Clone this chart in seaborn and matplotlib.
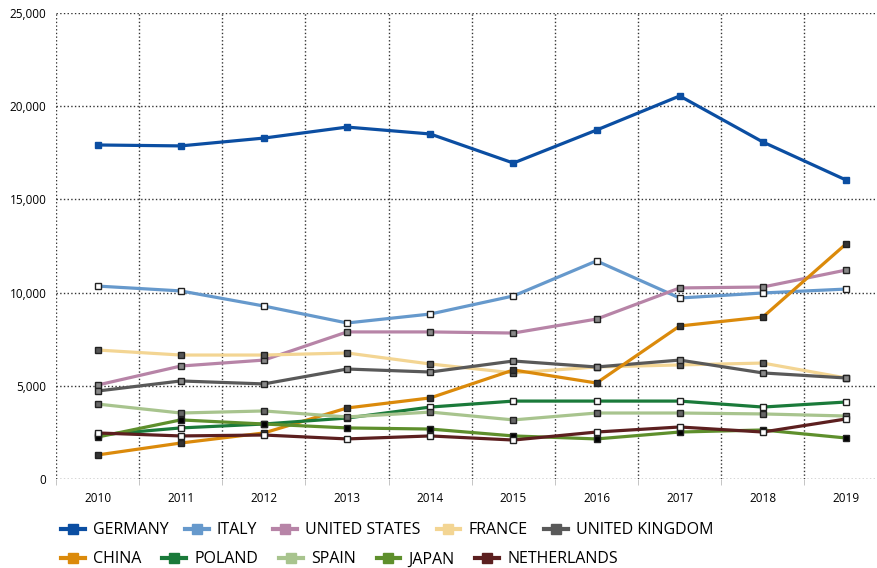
import pandas as pd
import matplotlib.pyplot as plt
import seaborn as sns
from matplotlib.lines import Line2D

years = ['2010', '2011', '2012', '2013', '2014', '2015', '2016', '2017', '2018', '2019']

germany = [17920, 17870, 18290, 18880, 18510, 16950, 18720, 20550, 18080, 16040]
italy = [10350, 10090, 9280, 8370, 8850, 9820, 11700, 9710, 9980, 10190]
united_states = [5040, 6060, 6380, 7890, 7890, 7830, 8580, 10250, 10300, 11210]
france = [6920, 6650, 6650, 6760, 6170, 5690, 6010, 6120, 6220, 5420]
united_kingdom = [4720, 5260, 5100, 5900, 5740, 6330, 6010, 6380, 5690, 5420]
china = [1290, 1930, 2470, 3810, 4350, 5850, 5150, 8210, 8690, 12610]
poland = [2360, 2740, 2950, 3270, 3860, 4180, 4180, 4180, 3860, 4130]
spain = [4020, 3540, 3650, 3330, 3590, 3170, 3540, 3540, 3490, 3380]
japan = [2250, 3170, 2950, 2740, 2680, 2310, 2150, 2520, 2630, 2200]
netherlands = [2470, 2310, 2360, 2150, 2310, 2090, 2520, 2790, 2520, 3220]

countries = ['GERMANY', 'ITALY', 'UNITED STATES', 'FRANCE', 'UNITED KINGDOM',
             'CHINA', 'POLAND', 'SPAIN', 'JAPAN', 'NETHERLANDS']
series = [germany, italy, united_states, france, united_kingdom,
          china, poland, spain, japan, netherlands]
colors = ['#0b4ea2', '#6699cc', '#b784a7', '#f3d593', '#595959',
          '#db8a0b', '#1a7a3a', '#a8c48e', '#5e8f2c', '#5c1f1f']
# marker face colours seen in the reference
faces = ['#0b4ea2', 'white', '#888888', '#555555', '#888888',
         '#333333', 'white', '#666666', 'black', 'white']

plt.rcParams['font.family'] = ['Open Sans', 'DejaVu Sans']

fig = plt.figure(figsize=(8.77, 5.68), dpi=100)
ax = fig.add_axes([56 / 877, 89 / 568, 831.6 / 877, 466 / 568])

x = list(range(len(years)))
for name, vals, col, fc in zip(countries, series, colors, faces):
    edge = col if name == 'GERMANY' else '#222222'
    ms = 5 if name == 'GERMANY' else 4
    sns.lineplot(x=x, y=vals, ax=ax, color=col, linewidth=2.3, marker='s',
                 markersize=ms, markerfacecolor=fc, markeredgecolor=edge,
                 markeredgewidth=1.0, label=name, legend=False)

ax.set_xlim(-0.5, 9.5)
ax.set_ylim(0, 25000)
ax.set_xticks(x)
ax.set_xticklabels(years, fontsize=8.5)
ax.set_xticks([i - 0.5 for i in range(len(years))], minor=True)
ax.set_yticks(range(0, 25001, 5000))
ax.set_yticklabels([f'{v:,}' for v in range(0, 25001, 5000)], fontsize=8.5)
ax.tick_params(axis='x', which='major', length=0, pad=9)
ax.tick_params(axis='x', which='minor', length=4, color='#bbbbbb')
ax.tick_params(axis='y', length=0, pad=7)
ax.grid(axis='y', which='major', linestyle=':', color='#333333', linewidth=1.0)
ax.grid(axis='x', which='minor', linestyle=':', color='#333333', linewidth=1.0)
ax.grid(axis='x', which='major', visible=False)
for s in ax.spines.values():
    s.set_visible(False)
ax.set_xlabel('')
ax.set_ylabel('')

handles = [Line2D([], [], color=c, linewidth=3, marker='s', markersize=7,
                  markerfacecolor=c, markeredgecolor=c) for c in colors]
leg1 = fig.legend(handles[:5], countries[:5], loc='upper left',
                  bbox_to_anchor=(55 / 877, 1 - 516 / 568), ncol=5, frameon=False,
                  fontsize=11.5, handlelength=1.5, handletextpad=0.5,
                  columnspacing=1.0, borderaxespad=0)
leg2 = fig.legend(handles[5:], countries[5:], loc='upper left',
                  bbox_to_anchor=(55 / 877, 1 - 545 / 568), ncol=5, frameon=False,
                  fontsize=11.5, handlelength=1.5, handletextpad=0.5,
                  columnspacing=1.3, borderaxespad=0)

fig.savefig('out.png', dpi=100)
